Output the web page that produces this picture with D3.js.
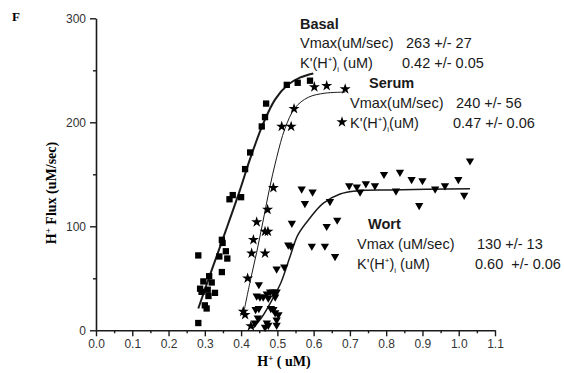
<!DOCTYPE html>
<html>
<head>
<meta charset="utf-8">
<script src="https://cdn.jsdelivr.net/npm/d3@7"></script>
<style>
  body { margin: 0; background: #fff; }
  svg { display: block; }
</style>
</head>
<body>
<svg id="chart" width="564" height="373"></svg>
<script>
// ticks
const xTicks = [0.0, 0.1, 0.2, 0.3, 0.4, 0.5, 0.6, 0.7, 0.8, 0.9, 1.0, 1.1];
const xMinorTicks = [0.05, 0.15, 0.25, 0.35, 0.45, 0.55, 0.65, 0.75, 0.85, 0.95, 1.05];
const yTicks = [0, 100, 200, 300];
const yMinorTicks = [50, 150, 250];

// measured points [H+ (uM), flux (uM/sec)]
const basalPoints = [
  [0.526, 236], [0.556, 238], [0.590, 240], [0.469, 218], [0.466, 205], [0.457, 196],
  [0.425, 171], [0.411, 155], [0.377, 130], [0.400, 128], [0.368, 126],
  [0.347, 87], [0.349, 84], [0.358, 76], [0.340, 71], [0.362, 69], [0.282, 72],
  [0.347, 56], [0.312, 52], [0.296, 47], [0.319, 46], [0.287, 40], [0.291, 37],
  [0.308, 39], [0.328, 36], [0.310, 33], [0.300, 24], [0.305, 21], [0.282, 7]
];
const serumPoints = [
  [0.602, 234], [0.636, 235], [0.687, 232], [0.546, 213], [0.512, 196], [0.538, 196],
  [0.489, 137], [0.473, 116], [0.443, 104], [0.466, 95], [0.474, 95], [0.434, 87],
  [0.429, 74], [0.466, 74], [0.418, 50], [0.406, 18], [0.411, 15], [0.427, 4]
];
const wortPoints = [
  [1.031, 163], [0.794, 150], [0.838, 152], [0.870, 145], [0.900, 144], [0.999, 145],
  [0.567, 136], [0.597, 133], [0.698, 139], [0.719, 138], [0.744, 141], [0.769, 139],
  [0.728, 133], [0.827, 134], [0.935, 136], [0.962, 139], [1.015, 130], [0.891, 120],
  [0.576, 122], [0.645, 124], [0.540, 103], [0.636, 100], [0.665, 106],
  [0.595, 81], [0.631, 81], [0.659, 71], [0.530, 82], [0.537, 81],
  [0.498, 59], [0.519, 61], [0.449, 44],
  [0.443, 33], [0.452, 32], [0.461, 32], [0.471, 35], [0.480, 37], [0.489, 37],
  [0.498, 37], [0.494, 32], [0.475, 31], [0.440, 20], [0.449, 21], [0.482, 21],
  [0.489, 20], [0.494, 17], [0.503, 15], [0.498, 10], [0.446, 12], [0.438, 7],
  [0.471, 7], [0.475, 5], [0.498, 5], [0.466, 3]
];

// fitted curves
const basalFit = [
  [0.282, 21], [0.316, 55], [0.358, 96], [0.397, 135], [0.425, 165], [0.460, 198],
  [0.494, 222], [0.529, 236], [0.562, 243], [0.599, 247]
];
const serumFit = [
  [0.409, 20], [0.425, 47], [0.443, 75], [0.460, 104], [0.477, 134], [0.498, 166],
  [0.521, 194], [0.549, 214], [0.585, 224], [0.631, 228], [0.687, 229]
];
const wortFit = [
  [0.433, 2], [0.458, 13], [0.485, 29], [0.510, 46], [0.535, 71], [0.557, 92],
  [0.590, 108], [0.626, 122], [0.673, 131], [0.720, 134], [0.811, 135], [1.031, 136]
];

const svg = d3.select("#chart");
const ink = "#1a1a1a";

const x = d3.scaleLinear().domain([0, 1.1]).range([96, 495]);
const y = d3.scaleLinear().domain([0, 300]).range([330.3, 18.3]);

// axes
svg.append("g")
  .attr("transform", "translate(0," + y(0) + ")")
  .call(d3.axisBottom(x).tickValues(xTicks).tickSize(6).tickPadding(3)
    .tickFormat(d3.format(".1f")).tickSizeOuter(0));
svg.append("g")
  .attr("transform", "translate(0," + y(0) + ")")
  .call(d3.axisBottom(x).tickValues(xMinorTicks).tickSize(3).tickFormat("").tickSizeOuter(0))
  .select(".domain").remove();

svg.append("g")
  .attr("transform", "translate(" + x(0) + ",0)")
  .call(d3.axisLeft(y).tickValues(yTicks).tickSize(6).tickPadding(4).tickSizeOuter(0));
svg.append("g")
  .attr("transform", "translate(" + x(0) + ",0)")
  .call(d3.axisLeft(y).tickValues(yMinorTicks).tickSize(3).tickFormat("").tickSizeOuter(0))
  .select(".domain").remove();

svg.selectAll(".domain").attr("stroke", ink).attr("stroke-width", 1.6);
svg.selectAll(".tick line").attr("stroke", ink).attr("stroke-width", 1.4);
svg.selectAll(".tick text")
  .attr("font-family", "Liberation Sans, Arial, sans-serif")
  .attr("font-size", 12)
  .attr("fill", "#333");

// fitted lines
const line = d3.line().x(d => x(d[0])).y(d => y(d[1])).curve(d3.curveCatmullRom);
svg.append("path").datum(basalFit).attr("d", line)
  .attr("fill", "none").attr("stroke", ink).attr("stroke-width", 2);
svg.append("path").datum(serumFit).attr("d", line)
  .attr("fill", "none").attr("stroke", ink).attr("stroke-width", 1);
svg.append("path").datum(wortFit).attr("d", line)
  .attr("fill", "none").attr("stroke", ink).attr("stroke-width", 1.5);

// markers
svg.append("g").selectAll("path").data(basalPoints).enter().append("path")
  .attr("d", d3.symbol().type(d3.symbolSquare).size(40))
  .attr("transform", d => "translate(" + x(d[0]) + "," + y(d[1]) + ")")
  .attr("fill", "#000");

const star = d3.symbol().type(d3.symbolStar).size(38);
svg.append("g").selectAll("path").data(serumPoints).enter().append("path")
  .attr("d", star)
  .attr("transform", d => "translate(" + x(d[0]) + "," + y(d[1]) + ")")
  .attr("fill", "#000");

svg.append("g").selectAll("path").data(wortPoints).enter().append("path")
  .attr("d", d3.symbol().type(d3.symbolTriangle).size(30))
  .attr("transform", d => "translate(" + x(d[0]) + "," + y(d[1]) + ") rotate(180)")
  .attr("fill", "#000");

// titles
const serif = "Liberation Serif, Times New Roman, serif";
const sans = "Liberation Sans, Arial, sans-serif";

svg.append("text").attr("x", 12).attr("y", 21)
  .attr("font-family", serif).attr("font-weight", "bold").attr("font-size", 13)
  .text("F");

const yTitle = svg.append("text")
  .attr("transform", "translate(56,193) rotate(-90)")
  .attr("text-anchor", "middle")
  .attr("font-family", serif).attr("font-weight", "bold").attr("font-size", 14);
yTitle.append("tspan").text("H");
yTitle.append("tspan").attr("baseline-shift", "super").attr("font-size", 9).text("+");
yTitle.append("tspan").text(" Flux (uM/sec)");

const xTitle = svg.append("text")
  .attr("x", 284).attr("y", 366).attr("text-anchor", "middle")
  .attr("font-family", serif).attr("font-weight", "bold").attr("font-size", 14);
xTitle.append("tspan").text("H");
xTitle.append("tspan").attr("baseline-shift", "super").attr("font-size", 9).text("+");
xTitle.append("tspan").text(" ( uM)");

// annotation blocks
function label(px, py, txt, bold) {
  return svg.append("text").attr("x", px).attr("y", py)
    .attr("font-family", sans).attr("font-size", 14.5).attr("fill", ink)
    .attr("font-weight", bold ? "bold" : "normal").text(txt);
}
function kLabel(px, py, tail) {
  const t = svg.append("text").attr("x", px).attr("y", py)
    .attr("font-family", sans).attr("font-size", 14.5).attr("fill", ink);
  t.append("tspan").text("K'(H");
  t.append("tspan").attr("font-size", 8).attr("dy", -6).text("+");
  t.append("tspan").attr("dy", 6).text(")");
  t.append("tspan").attr("font-size", 8).attr("dy", 4).text("i");
  t.append("tspan").attr("dy", -4).text(tail);
}

label(300, 29, "Basal", true);
label(300, 48, "Vmax(uM/sec)");
kLabel(300, 68, " (uM)");
label(406, 48, "263 +/- 27");
label(402, 68, "0.42 +/- 0.05");

label(369, 88, "Serum", true);
label(350, 108, "Vmax(uM/sec)");
svg.append("path").attr("d", star)
  .attr("transform", "translate(342,122)").attr("fill", "#000");
kLabel(350, 128, "(uM)");
label(456, 108, "240 +/- 56");
label(453, 128, "0.47 +/- 0.06");

label(368, 229, "Wort", true);
label(357, 249, "Vmax (uM/sec)");
kLabel(357, 269, " (uM)");
label(477, 249, "130 +/- 13");
label(475, 269, "0.60  +/- 0.06").style("white-space", "pre");
</script>
</body>
</html>
